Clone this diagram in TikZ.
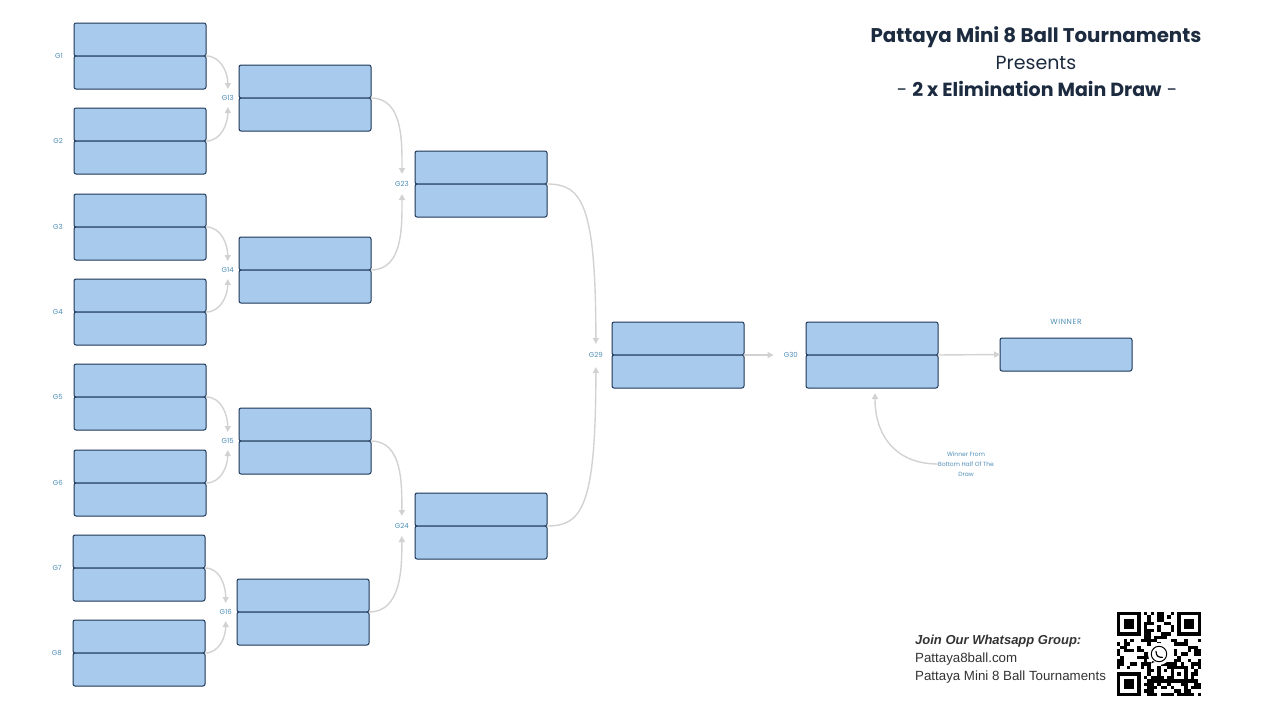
\documentclass[tikz,border=0pt]{standalone}
\usepackage{fontspec}
\setmainfont{Lato}
\newfontfamily\tagfont{Poppins}
\newfontfamily\headfont{Poppins}
\newfontfamily\notefont{Liberation Sans}
\usetikzlibrary{positioning,arrows.meta}
\definecolor{cellfill}{HTML}{A8CAEC}
\definecolor{celldraw}{HTML}{1B3556}
\definecolor{tagblue}{HTML}{4D8DB6}
\definecolor{linkgray}{HTML}{D2D2D2}
\definecolor{titlenavy}{HTML}{1C2B3F}
\begin{document}
\begin{tikzpicture}[x=1pt,y=-1pt,line join=round,line cap=round,>={Triangle[length=6pt,width=6pt]},
  cell/.style={draw=celldraw,fill=cellfill,line width=1pt,rounded corners=2pt,minimum width=132pt,minimum height=33pt,inner sep=0pt,outer sep=0pt},
  tag/.style={font=\tagfont\fontsize{7}{8}\selectfont,text=tagblue,inner sep=0pt},
  link/.style={draw=linkgray,line width=1.4pt,->}]
\useasboundingbox (0,0) rectangle (1280,720);
% match boxes: game/x/y/label gap
\foreach \n/\x/\y/\g in {1/74/23/11,2/74/108/11,3/74/194/11,4/74/279/11,5/74/364/11,6/74/450/11,7/73/535/11,8/73/620/11,
  13/239/65/5,14/239/237/5,15/239/408/5,16/237/579/5,23/415/151/6,24/415/493/6,29/612/322/9,30/806/322/8}{
  \node[cell,anchor=north west] (g\n a) at (\x,\y) {};
  \node[cell,below=0pt of g\n a] (g\n b) {};
  \node[tag,anchor=east,xshift=-\g pt] (tag\n) at (g\n a.south west) {G\n};
}
\node[cell,anchor=north west] (champ) at (1000,338) {};
\node[tag,font=\tagfont\fontsize{7.5}{8}\selectfont\addfontfeatures{LetterSpace=8}] (winner) at (1066,322) {WINNER};
\node[tag,align=center,font=\tagfont\fontsize{6}{10}\selectfont] (note) at (966,464) {Winner From\\Bottom Half Of The\\Draw};
% links between rounds
\foreach \f/\t/\d/\i in {1/13/9/90,2/13/-9/-90,3/14/9/90,4/14/-9/-90,5/15/9/90,6/15/-9/-90,7/16/9/90,8/16/-9/-90,
  13/23/10/90,14/23/-10/-90,15/24/10/90,16/24/-10/-90}
  \draw[link] (g\f a.south east) to[out=0,in=\i] ([yshift=\d pt]tag\t.center);
\draw[link] (g23a.south east) .. controls +(35,0) and +(0,-140) .. ([yshift=11pt]tag29.center);
\draw[link] (g24a.south east) .. controls +(35,0) and +(0,140) .. ([yshift=-12pt]tag29.center);
\draw[link] (g29a.south east) -- ([xshift=-10pt]tag30.west);
\draw[link] (g30a.south east) -- (champ.west);
\draw[link] (note.west) .. controls +(-40,0) and +(0,45) .. ([xshift=3pt,yshift=-5pt]g30b.south);
% heading
\node[anchor=base,text=titlenavy,font=\headfont\bfseries\fontsize{19.8}{23}\selectfont] (title) at (1036,42) {Pattaya Mini 8 Ball Tournaments};
\node[anchor=base,text=titlenavy,font=\headfont\fontsize{19}{22}\selectfont] (presents) at (1036,69) {Presents};
\node[anchor=base,text=titlenavy,font=\headfont\fontsize{19}{22}\selectfont] (subtitle) at (1037,96) {- \textbf{2 x Elimination Main Draw} -};
% footer
\node[anchor=base west,inner sep=0pt,text=black!80,font=\notefont\bfseries\itshape\fontsize{13}{15}\selectfont] (join) at (915,644) {Join Our Whatsapp Group:};
\node[anchor=base west,inner sep=0pt,text=black!80,font=\notefont\fontsize{13.3}{15}\selectfont] (site) at (915,662) {Pattaya8ball.com};
\node[anchor=base west,inner sep=0pt,text=black!80,font=\notefont\fontsize{13.3}{15}\selectfont] (group) at (915,680) {Pattaya Mini 8 Ball Tournaments};
% qr code
\begin{scope}[shift={(1117,612)},x=3.36pt,y=-3.36pt]
\pgfmathsetseed{8}
\foreach \i in {0,...,24}{\foreach \j in {0,...,24}{\pgfmathtruncatemacro\bit{rnd+0.5}\ifnum\bit=1 \fill (\i,\j) rectangle +(1,1);\fi}}
\foreach \u/\v/\p/\q in {0/0/0/0,18/0/17/0,0/18/0/17}{
  \fill[white] (\p,\q) rectangle +(8,8);
  \fill (\u,\v) rectangle +(7,7);
  \fill[white] (\u+1,\v+1) rectangle +(5,5);
  \fill (\u+2,\v+2) rectangle +(3,3);
}
\fill (16,16) rectangle +(5,5);
\fill[white] (17,17) rectangle +(3,3);
\fill (18,18) rectangle +(1,1);
\fill[white] (12.5,12.5) circle (3.3);
\draw[line width=1pt] (12.5,12.5) circle (2.3);
\fill (10.6,14.6) -- (10.1,15.3) -- (11.2,14.9) -- cycle;
\draw[line width=1.2pt] (11.6,11.7) .. controls (11.7,13.1) and (12.2,13.5) .. (13.5,13.5);
\end{scope}
\end{tikzpicture}
\end{document}
